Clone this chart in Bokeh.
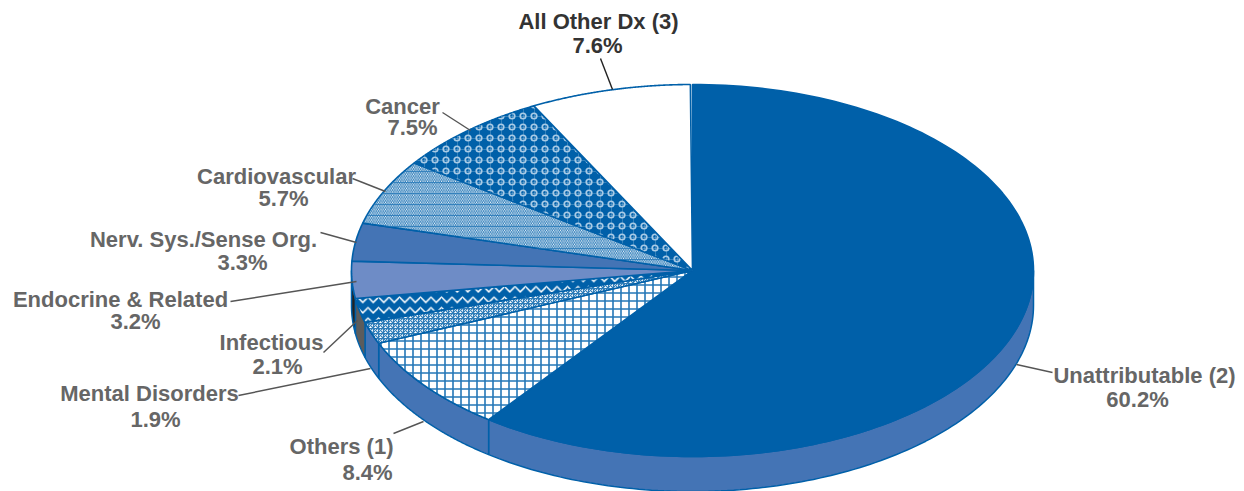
import numpy as np
from bokeh.plotting import figure
from bokeh.models import Range1d
from bokeh.core.properties import value
from bokeh.embed import file_html
from bokeh.resources import INLINE

categories = ["Unattributable (2)", "Others (1)", "Mental Disorders", "Infectious",
              "Endocrine & Related", "Nerv. Sys./Sense Org.", "Cardiovascular", "Cancer", "All Other Dx (3)"]
shares = [60.2, 8.4, 1.9, 2.1, 3.2, 3.3, 5.7, 7.5, 7.6]

# layout
CX, CY, RX, RY, DEPTH = 692, 270, 341, 186, 35
BLUE = "#0060A9"
MID = "#4474B5"
LIGHT = "#6E8CC6"
GREY = "#666666"
HATCH = "#2477B7"
RINGC = "#A9CBE6"
fills = [BLUE, "white", "white", BLUE, LIGHT, MID, "white", BLUE, "white"]
hatches = [None, "cross", "criss_cross", "horizontal_wave", None, None, "left_diagonal_line", "ring", None]
hatch_cols = [None, HATCH, "#2F7DB9", "white", None, None, HATCH, RINGC, None]
hatch_scales = [1, 8, 5, 10.5, 1, 1, 3.5, 11, 1]
hatch_weights = [1, 1.6, 1.2, 1.5, 1, 1, 1.0, 1.7, 1]
# second hatch layers: the horizontal rules in Cardiovascular, the faint grid in Cancer
over_hatch = {"Cardiovascular": ("horizontal_line", HATCH, 11, 0.8, 1.0), "Cancer": ("cross", RINGC, 11, 0.7, 0.45)}
side_cols = [MID, MID, MID, "#5C5C5C", "#222222", MID, MID, MID, MID]
label_pos = [(1144, 375, 1137, 399), (341, 446, 367, 472), (149, 393, 155, 419), (271, 342, 277, 366),
             (120, 299, 135, 321), (203, 239, 242, 262), (276, 176, 283, 198), (402, 106, 412, 127), (598, 21, 597, 45)]
leaders = [((1052, 372), (1016, 364)), ((393, 433), (423, 421)), ((238, 395), (370, 368)), ((323, 352), (357, 320)),
           ((230, 301), (356, 281)), ((320, 232), (356, 242)), ((352, 178), (385, 191)), ((442, 112), (470, 130)),
           ((600, 58), (612, 89))]

p = figure(width=1244, height=491, x_range=Range1d(0, 1244), y_range=Range1d(491, 0),
           output_backend="svg", toolbar_location=None, min_border=0, outline_line_color=None)
p.axis.visible = False
p.grid.visible = False

cum = np.concatenate([[0], np.cumsum(shares)]) / 100 * 2 * np.pi

def ex(t): return CX + RX * np.sin(t)
def ey(t): return CY - RY * np.cos(t)

# rim
for i in range(len(shares)):
    a, b = max(cum[i], np.pi / 2), min(cum[i + 1], 3 * np.pi / 2)
    if a >= b:
        continue
    t = np.linspace(a, b, 120)
    xs = np.concatenate([ex(t), ex(t[::-1])])
    ys = np.concatenate([ey(t), ey(t[::-1]) + DEPTH])
    p.patch(xs, ys, fill_color=side_cols[i], line_color=BLUE, line_width=1.5)

# top face
for i in range(len(shares)):
    t = np.linspace(cum[i], cum[i + 1], 160)
    xs = np.concatenate([[CX], ex(t)])
    ys = np.concatenate([[CY], ey(t)])
    kw = dict(fill_color=fills[i], line_color=BLUE, line_width=1.6)
    if hatches[i]:
        kw.update(hatch_pattern=hatches[i], hatch_color=hatch_cols[i],
                  hatch_scale=hatch_scales[i], hatch_weight=hatch_weights[i])
    p.patch(xs, ys, **kw)
    if categories[i] in over_hatch:
        pat, col, sc, wt, al = over_hatch[categories[i]]
        p.patch(xs, ys, fill_alpha=0, line_color=None, hatch_pattern=pat,
                hatch_color=col, hatch_scale=sc, hatch_weight=wt, hatch_alpha=al)

# leader lines
for (x0, y0), (x1, y1) in leaders:
    p.line([x0, x1], [y0, y1], line_color="#555555" if x0 != 600 else "#222222", line_width=1.4)

# labels
for name, val, (x0, y0, x1, y1) in zip(categories, shares, label_pos):
    col = "#333333" if name.startswith("All Other") else GREY
    for x, y, s in ((x0, y0, name), (x1, y1, f"{val}%")):
        p.text([x], [y], text=[s], text_font=value("Liberation Sans"), text_font_style="bold",
               text_font_size="22px", text_color=col, text_align="center", text_baseline="middle")

open("out.html", "w").write(file_html(p, INLINE))
